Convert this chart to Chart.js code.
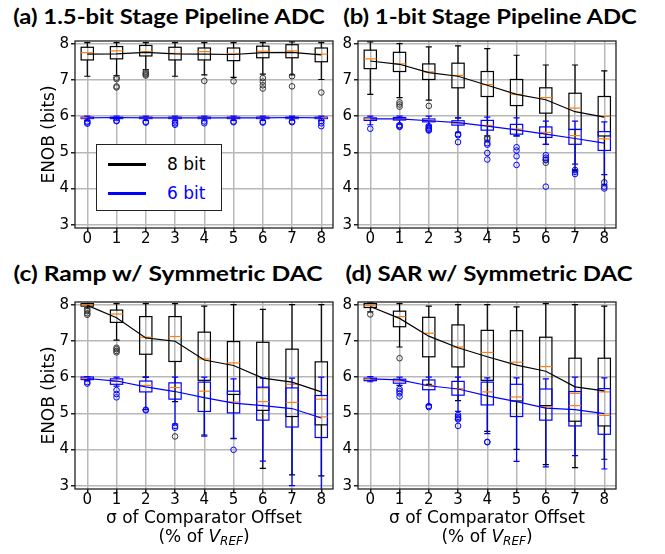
<!DOCTYPE html>
<html>
<head>
<meta charset="utf-8">
<script src="https://cdn.jsdelivr.net/npm/chart.js@4.4.1/dist/chart.umd.min.js"></script>
<style>
  body { margin: 0; background: #fff; width: 665px; height: 554px; position: relative; overflow: hidden;
         font-family: "DejaVu Sans", sans-serif; color: #000; }
  .panel { position: absolute; width: 340px; height: 230px; }
  .panel.right { width: 290px; }
  .title { position: absolute; font-family: Lato, sans-serif; font-weight: bold; font-size: 21px;
           white-space: nowrap; line-height: 1; }
  .xtitle { position: absolute; width: 258px; text-align: center; font-size: 17px; line-height: 19px; }
  .xtitle sub { font-size: 12px; font-style: italic; vertical-align: -3px; }
  .legend { position: absolute; left: 96px; top: 144px; width: 124px; height: 65px; background: #fff;
            border: 1.3px solid #222; }
  .legend .ln { position: absolute; left: 11px; width: 38px; height: 3px; }
  .legend .tx { position: absolute; left: 70px; font-size: 17px; line-height: 20px; }
</style>
</head>
<body>

<div class="title" data-w="312" style="left:169px;top:15px">(a) 1.5-bit Stage Pipeline ADC</div>
<div class="title" data-w="294" style="left:490px;top:15px">(b) 1-bit Stage Pipeline ADC</div>
<div class="title" data-w="309" style="left:168px;top:272px">(c) Ramp w/ Symmetric DAC</div>
<div class="title" data-w="287" style="left:489px;top:272px">(d) SAR w/ Symmetric DAC</div>

<div class="panel" style="left:0;top:30px"><canvas id="chartA"></canvas></div>
<div class="panel right" style="left:335px;top:30px"><canvas id="chartB"></canvas></div>
<div class="panel" style="left:0;top:291px"><canvas id="chartC"></canvas></div>
<div class="panel right" style="left:335px;top:291px"><canvas id="chartD"></canvas></div>

<div class="legend">
  <div class="ln" style="top:18px;background:#000"></div>
  <div class="tx" style="top:9px">8 bit</div>
  <div class="ln" style="top:47px;background:#0000ff"></div>
  <div class="tx" style="top:38px;color:#0000ff">6 bit</div>
</div>

<div class="xtitle" style="left:75px;top:508px">σ of Comparator Offset<br>(% of <i>V</i><sub>REF</sub>)</div>
<div class="xtitle" style="left:358px;top:508px">σ of Comparator Offset<br>(% of <i>V</i><sub>REF</sub>)</div>

<script>
// x positions = comparator offset sigma (% of VREF)
const offsets = [0, 1, 2, 3, 4, 5, 6, 7, 8];
const enobTicks = [3, 4, 5, 6, 7, 8];

// box tuples: [whisker low, q1, median, q3, whisker high]
// (a) 1.5-bit stage pipeline
const boxA8 = [[7.10, 7.55, 7.75, 7.90, 8.03], [7.12, 7.58, 7.80, 7.92, 8.03], [7.28, 7.66, 7.78, 7.95, 8.03],
               [7.10, 7.55, 7.73, 7.90, 8.03], [7.14, 7.55, 7.78, 7.88, 8.03], [7.07, 7.53, 7.72, 7.88, 8.03],
               [7.16, 7.61, 7.79, 7.93, 8.03], [7.14, 7.61, 7.80, 7.97, 8.05], [7.01, 7.50, 7.71, 7.88, 8.03]];
const meanA8 = [7.71, 7.72, 7.76, 7.72, 7.71, 7.70, 7.75, 7.76, 7.69];
const outA8 = [[], [7.06, 7.02, 6.82, 6.79], [7.22, 7.18, 7.15, 7.12], [], [6.97], [6.96],
               [7.05, 6.95, 6.85, 6.76], [7.10, 6.82], [6.65]];
const boxA6 = [[5.88, 5.93, 5.95, 5.97, 6.00], [5.89, 5.93, 5.96, 5.97, 6.00], [5.88, 5.93, 5.95, 5.97, 6.00],
               [5.88, 5.93, 5.95, 5.97, 6.00], [5.89, 5.93, 5.95, 5.97, 6.00], [5.88, 5.93, 5.95, 5.97, 6.00],
               [5.88, 5.93, 5.95, 5.97, 6.00], [5.89, 5.93, 5.95, 5.97, 6.00], [5.88, 5.93, 5.95, 5.97, 6.00]];
const meanA6 = [5.95, 5.96, 5.95, 5.95, 5.95, 5.95, 5.95, 5.96, 5.95];
const outA6 = [[5.85, 5.82, 5.79], [5.87, 5.86], [5.84, 5.82], [5.85, 5.80, 5.76], [5.85, 5.80],
               [5.85, 5.83], [5.84, 5.82], [5.85, 5.83], [5.86, 5.80, 5.72]];

// (b) 1-bit stage pipeline
const boxB8 = [[6.60, 7.31, 7.58, 7.82, 8.05], [6.51, 7.23, 7.44, 7.76, 8.00], [6.44, 7.01, 7.22, 7.44, 7.91],
               [5.95, 6.78, 7.12, 7.46, 7.94], [5.45, 6.54, 6.87, 7.23, 7.86], [5.45, 6.29, 6.60, 7.01, 7.68],
               [5.22, 6.08, 6.51, 6.78, 7.41], [4.50, 5.63, 6.22, 6.63, 7.41], [4.10, 5.45, 5.99, 6.54, 7.25]];
const meanB8 = [7.52, 7.43, 7.20, 7.10, 6.85, 6.60, 6.45, 6.12, 5.97];
const outB8 = [[], [6.38, 6.32, 6.26], [6.28], [], [5.40, 5.37], [], [4.78, 4.71], [], []];
const boxB6 = [[5.76, 5.88, 5.92, 5.95, 6.00], [5.78, 5.89, 5.93, 5.96, 6.00], [5.75, 5.84, 5.88, 5.92, 6.00],
               [5.55, 5.75, 5.80, 5.87, 5.95], [5.31, 5.61, 5.74, 5.88, 5.97], [5.45, 5.50, 5.64, 5.77, 5.95],
               [5.22, 5.41, 5.55, 5.70, 5.86], [4.67, 5.22, 5.46, 5.63, 5.86], [4.38, 5.05, 5.37, 5.57, 5.84]];
const meanB6 = [5.92, 5.92, 5.87, 5.82, 5.72, 5.62, 5.50, 5.38, 5.25];
const outB6 = [[5.65], [5.75, 5.72, 5.70], [5.72, 5.68, 5.65, 5.62, 5.60], [5.50, 5.47, 5.28],
               [5.25, 5.21, 4.98, 4.80], [5.14, 5.05, 4.89, 4.65], [4.92, 4.85, 4.80, 4.05],
               [4.51, 4.46, 4.40], [4.17, 4.05, 4.00]];

// (c) ramp w/ symmetric DAC
const boxC8 = [[7.91, 7.96, 7.99, 8.03, 8.03], [7.02, 7.51, 7.74, 7.85, 8.03], [6.00, 6.63, 7.10, 7.67, 8.03],
               [5.32, 6.43, 7.12, 7.67, 8.03], [4.40, 5.91, 6.50, 7.24, 7.96], [4.30, 5.52, 6.39, 6.98, 8.00],
               [3.48, 5.08, 5.70, 6.96, 7.87], [3.30, 4.91, 5.80, 6.77, 8.00], [3.27, 4.68, 5.39, 6.42, 8.00]];
const meanC8 = [7.98, 7.64, 7.08, 6.99, 6.47, 6.32, 5.97, 5.86, 5.59];
const outC8 = [[7.87, 7.82, 7.76, 7.72], [6.81, 6.77, 6.72, 6.68], [], [4.36], [], [], [], [], []];
const boxC6 = [[5.90, 5.93, 5.96, 6.00, 6.01], [5.75, 5.80, 5.88, 5.95, 6.00], [5.10, 5.59, 5.77, 5.89, 6.00],
               [4.70, 5.39, 5.71, 5.84, 6.00], [4.37, 5.05, 5.61, 5.86, 6.00], [4.31, 5.01, 5.31, 5.61, 5.95],
               [3.68, 4.81, 5.32, 5.72, 5.97], [3.00, 4.62, 5.30, 5.70, 5.97], [2.85, 4.33, 4.90, 5.49, 6.00]];
const meanC6 = [5.96, 5.89, 5.73, 5.60, 5.43, 5.28, 5.21, 5.13, 4.87];
const outC6 = [[5.86, 5.82], [5.64, 5.53, 5.44], [5.10, 5.08], [4.65, 4.60], [], [3.99], [], [], []];

// (d) SAR w/ symmetric DAC
const boxD8 = [[7.80, 7.92, 7.97, 8.03, 8.05], [6.83, 7.39, 7.67, 7.82, 8.03], [5.80, 6.56, 7.21, 7.65, 7.96],
               [5.35, 6.28, 6.83, 7.44, 8.00], [4.50, 5.91, 6.68, 7.29, 8.00], [4.00, 5.34, 6.41, 7.28, 7.94],
               [3.58, 5.21, 6.29, 7.10, 8.03], [3.50, 4.78, 5.55, 6.52, 8.00], [3.73, 4.65, 5.59, 6.52, 7.96]];
const meanD8 = [7.95, 7.62, 7.13, 6.81, 6.56, 6.33, 6.16, 5.73, 5.62];
const outD8 = [[7.73], [6.52], [], [], [], [], [], [], []];
const boxD6 = [[5.87, 5.90, 5.94, 5.97, 6.01], [5.77, 5.83, 5.89, 5.94, 6.00], [5.23, 5.65, 5.77, 5.92, 6.00],
               [5.05, 5.50, 5.68, 5.88, 6.00], [4.44, 5.23, 5.59, 5.86, 5.98], [3.67, 4.91, 5.45, 5.80, 5.98],
               [3.52, 4.81, 5.18, 5.67, 5.95], [3.83, 4.65, 5.21, 5.60, 6.00], [3.46, 4.42, 4.94, 5.68, 5.98]];
const meanD6 = [5.95, 5.92, 5.76, 5.67, 5.48, 5.32, 5.14, 5.10, 4.99];
const outD6 = [[], [5.67, 5.61, 5.55, 5.46], [5.20, 5.17], [4.95, 4.90, 4.86, 4.83, 4.65], [4.21, 4.20], [], [], [], []];

const BLACK = '#000000';
const BLUE = '#0000ff';
const ORANGE = '#ff7f0e';
const BOX_W = 0.42;
const CAP_W = 0.21;

// draws the box plots with the chart's own scales
function boxPlots(sets) {
  return {
    id: 'boxPlots',
    beforeDatasetsDraw(chart) {
      const { ctx, chartArea: a, scales: { x, y } } = chart;
      ctx.save();
      ctx.beginPath();
      ctx.rect(a.left, a.top, a.right - a.left, a.bottom - a.top);
      ctx.clip();
      ctx.lineWidth = 1.2;
      sets.forEach(set => {
        set.boxes.forEach((b, i) => {
          const cx = x.getPixelForValue(offsets[i]);
          const hw = x.getPixelForValue(offsets[i] + BOX_W / 2) - cx;
          const cw = x.getPixelForValue(offsets[i] + CAP_W / 2) - cx;
          const [lo, q1, med, q3, hi] = b.map(v => y.getPixelForValue(v));
          ctx.strokeStyle = set.color;
          ctx.beginPath();
          ctx.moveTo(cx, lo); ctx.lineTo(cx, q1);
          ctx.moveTo(cx, q3); ctx.lineTo(cx, hi);
          ctx.moveTo(cx - cw, lo); ctx.lineTo(cx + cw, lo);
          ctx.moveTo(cx - cw, hi); ctx.lineTo(cx + cw, hi);
          ctx.stroke();
          ctx.strokeRect(cx - hw, q3, hw * 2, q1 - q3);
          ctx.strokeStyle = ORANGE;
          ctx.beginPath();
          ctx.moveTo(cx - hw, med); ctx.lineTo(cx + hw, med);
          ctx.stroke();
        });
      });
      ctx.restore();
    },
    afterDraw(chart) {
      const { ctx, chartArea: a } = chart;
      ctx.save();
      ctx.strokeStyle = '#222';
      ctx.lineWidth = 1.3;
      ctx.strokeRect(a.left, a.top, a.right - a.left, a.bottom - a.top);
      ctx.restore();
    }
  };
}

function points(vals) {
  return vals.map((v, i) => ({ x: offsets[i], y: v }));
}

function outliers(lists) {
  const pts = [];
  lists.forEach((l, i) => l.forEach(v => pts.push({ x: offsets[i], y: v })));
  return pts;
}

function makeChart(id, box8, mean8, out8, box6, mean6, out6, yAxisW, rightPad, withTitle) {
  const tickFont = { family: 'DejaVu Sans', size: 15 };
  const grid = { color: '#b8b8b8', lineWidth: 1.5, tickLength: 4, tickColor: '#222' };
  new Chart(document.getElementById(id), {
    type: 'scatter',
    data: {
      datasets: [
        { data: points(mean6), showLine: true, borderColor: BLUE, borderWidth: 1.2, pointRadius: 0 },
        { data: outliers(out6), borderColor: BLUE, backgroundColor: 'rgba(0,0,0,0)', borderWidth: 1, pointRadius: 2.8 },
        { data: points(mean8), showLine: true, borderColor: BLACK, borderWidth: 1.2, pointRadius: 0 },
        { data: outliers(out8), borderColor: '#333', backgroundColor: 'rgba(0,0,0,0)', borderWidth: 1, pointRadius: 2.8 }
      ]
    },
    options: {
      responsive: true,
      maintainAspectRatio: false,
      animation: false,
      layout: { padding: { left: 0, top: 7, right: rightPad, bottom: 0 } },
      plugins: { legend: { display: false }, tooltip: { enabled: false } },
      scales: {
        x: {
          type: 'linear', min: -0.42, max: 8.4,
          afterBuildTicks: s => { s.ticks = offsets.map(v => ({ value: v })); },
          afterFit: s => { s.height = 32; },
          ticks: { font: tickFont, color: '#000', padding: -2, maxRotation: 0, autoSkip: false },
          grid: grid,
          border: { display: false }
        },
        y: {
          min: 2.908, max: 8.073,
          afterBuildTicks: s => { s.ticks = enobTicks.map(v => ({ value: v })); },
          afterFit: s => { s.width = yAxisW; },
          ticks: { font: tickFont, color: '#000', padding: 2 },
          grid: grid,
          border: { display: false },
          title: { display: withTitle, text: 'ENOB (bits)', color: '#000',
                   font: { family: 'DejaVu Sans', size: 17 }, padding: { top: 39, bottom: 0 } }
        }
      }
    },
    plugins: [boxPlots([{ boxes: box8, color: BLACK }, { boxes: box6, color: BLUE }])]
  });
}

makeChart('chartA', boxA8, meanA8, outA8, boxA6, meanA6, outA6, 75, 7, true);
makeChart('chartB', boxB8, meanB8, outB8, boxB6, meanB6, outB6, 23, 9, false);
makeChart('chartC', boxC8, meanC8, outC8, boxC6, meanC6, outC6, 75, 7, true);
makeChart('chartD', boxD8, meanD8, outD8, boxD6, meanD6, outD6, 23, 9, false);

// fit the bold panel titles to the reference widths
document.querySelectorAll('.title').forEach(el => {
  const s = +el.dataset.w / el.offsetWidth;
  el.style.transform = 'translate(-50%, -50%) scaleX(' + s.toFixed(3) + ')';
});
</script>
</body>
</html>
